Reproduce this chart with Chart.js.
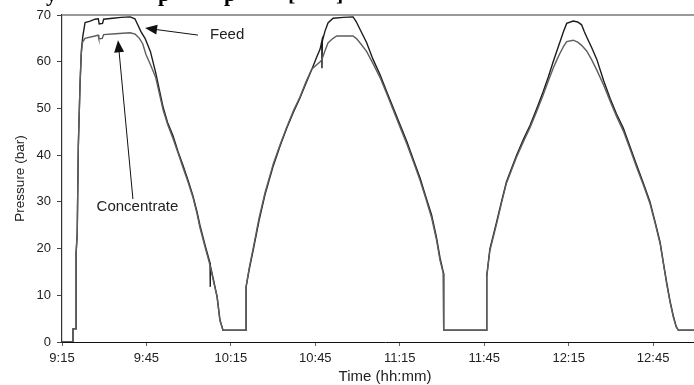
<!DOCTYPE html>
<html>
<head>
<meta charset="utf-8">
<script src="https://cdn.jsdelivr.net/npm/chart.js@4.4.1/dist/chart.umd.min.js"></script>
<style>
html,body{margin:0;padding:0;overflow:hidden;background:#fff;}
#wrap{position:relative;width:710px;height:385px;}
</style>
</head>
<body>
<div id="wrap"><canvas id="c" width="710" height="385"></canvas></div>
<script>
// ---- data (time in minutes after 9:15, pressure in bar) ----
const feedTime = [
  0, 3.9, 3.9, 5.0, 5.0, 5.4, 5.8, 6.4, 6.9, 7.4, 8.2, 10.0, 11.7, 12.9, 13.2, 14.4, 14.8, 18.0, 21.0, 24.2,
  25.9, 27.0, 28.0, 29.5, 31.4, 33.3, 35.9, 37.5, 39.4, 41.2, 43.0, 44.8, 46.5, 48.0, 49.0, 50.8, 52.6, 52.65, 52.7, 54.0,
  55.1, 56.1, 57.2, 65.4,
  65.4, 66.5, 68.0, 70.0, 72.1, 75.1, 77.5, 79.8, 82.2, 84.5, 86.6, 88.7, 90.5, 91.7, 92.3, 92.35, 92.5, 93.4, 94.5, 96.3,
  100.0, 103.4, 104.5, 105.9, 108.2, 110.5, 113.0, 115.4, 117.7, 120.1, 122.5, 124.9, 127.2, 129.3, 131.3, 133.0, 134.3, 135.5, 135.6, 150.9,
  150.9, 152.0, 154.4, 156.2, 157.9, 161.5, 164.0, 166.3, 168.6, 170.9, 172.8, 174.5, 175.8, 176.9, 178.2, 179.3, 181.6, 183.2, 184.6, 185.5,
  186.4, 188.2, 190.0, 192.4, 194.7, 197.0, 199.4, 201.8, 204.2, 206.6, 208.9, 210.8, 212.5, 213.7, 214.8, 216.0, 217.2, 218.2, 219.0, 229.5
];
const feedPressure = [
  0, 0, 2.8, 2.8, 19, 23, 42, 55, 62.5, 65.5, 68.4, 68.7, 69.1, 69.2, 68.1, 68.2, 69.1, 69.3, 69.5, 69.6,
  69.2, 67.8, 66.5, 65.0, 62.2, 57.6, 50.3, 47.0, 44.2, 40.8, 37.8, 34.6, 31.3, 27.8, 25.0, 20.8, 16.9, 11.8, 16.4, 12.8,
  9.6, 4.8, 2.5, 2.5,
  11.8, 15.5, 19.9, 26.0, 31.5, 37.8, 42.0, 45.7, 49.2, 52.2, 55.3, 58.3, 61.0, 62.7, 64.4, 58.6, 64.4, 66.5, 68.3, 69.3,
  69.5, 69.6, 68.6, 66.9, 64.1, 60.5, 57.2, 53.5, 50.1, 46.5, 42.9, 38.9, 35.1, 31.0, 27.2, 22.5, 18.0, 14.8, 2.5, 2.5,
  14.2, 19.9, 25.7, 30.2, 34.3, 40.0, 43.5, 46.4, 49.9, 53.5, 56.8, 60.0, 62.3, 64.2, 66.5, 68.2, 68.7, 68.5, 67.9, 66.5,
  65.3, 63.0, 60.5, 56.0, 52.2, 48.8, 45.8, 41.8, 37.8, 33.9, 30.0, 25.5, 21.3, 16.8, 12.8, 8.8, 5.5, 3.3, 2.5, 2.5
];
const concTime = [
  0, 3.9, 3.9, 5.0, 5.0, 5.4, 5.8, 6.4, 6.8, 7.3, 8.2, 11.7, 12.8, 13.1, 14.3, 14.8, 19.0, 24.2, 26.0, 27.5,
  28.7, 29.8, 31.4, 33.3, 35.9, 37.5, 39.4, 41.2, 43.0, 44.8, 46.5, 48.0, 49.0, 50.8, 52.6, 54.0, 55.1, 56.1, 57.2, 65.4,
  65.4, 66.5, 68.0, 70.0, 72.1, 75.1, 77.5, 79.8, 82.2, 84.5, 86.6, 88.7, 91.7, 92.3, 93.4, 94.5, 96.3, 97.6, 103.4, 104.7,
  105.9, 108.2, 110.5, 113.0, 115.4, 117.7, 120.1, 122.5, 124.9, 127.2, 129.3, 131.3, 133.0, 134.3, 135.5, 135.6, 150.9,
  150.9, 152.0, 154.4, 156.2, 157.9, 161.5, 164.0, 166.3, 168.6, 170.9, 172.8, 174.5, 175.8, 176.9, 178.2, 179.3, 181.6, 183.2, 184.6, 186.4,
  188.2, 190.0, 192.4, 194.7, 197.0, 199.4, 201.8, 204.2, 206.6, 208.9, 210.8, 212.5, 213.7, 214.8, 216.0, 217.2, 218.2, 219.0, 229.5
];
const concPressure = [
  0, 0, 2.8, 2.8, 19, 23, 42, 55, 61.5, 64.2, 65.0, 65.5, 65.7, 64.9, 65.0, 65.8, 66.0, 66.2, 65.9, 65.0,
  63.8, 61.6, 59.4, 56.6, 49.7, 46.6, 43.6, 40.5, 37.3, 34.2, 31.0, 27.4, 24.5, 20.4, 16.4, 12.5, 9.8, 4.6, 2.5, 2.5,
  11.8, 15.8, 20.3, 26.5, 31.9, 38.2, 42.3, 45.9, 49.5, 52.4, 55.6, 58.4, 60.0, 60.4, 62.3, 64.0, 65.0, 65.5, 65.5, 64.9,
  64.0, 62.2, 59.6, 56.6, 53.1, 49.6, 46.0, 42.4, 38.5, 34.6, 30.6, 26.6, 22.0, 17.5, 14.6, 2.5, 2.5,
  14.0, 19.5, 25.3, 29.9, 34.0, 39.6, 43.0, 45.9, 49.3, 52.8, 55.9, 58.6, 60.4, 61.8, 63.3, 64.3, 64.6, 64.2, 63.5, 62.3,
  60.4, 58.2, 55.0, 51.6, 48.3, 45.2, 41.3, 37.3, 33.5, 29.6, 25.2, 21.0, 16.6, 12.5, 8.6, 5.3, 3.2, 2.5, 2.5
];
const xTickMinutes = [0, 30, 60, 90, 120, 150, 180, 210];
const xTickLabels = ['9:15', '9:45', '10:15', '10:45', '11:15', '11:45', '12:15', '12:45'];
const seriesNames = ['Feed', 'Concentrate'];
const headingFragments = ['y', 'p', 'p', '[', ']'];

const toPoints = (ts, vs) => ts.map((t, i) => ({x: t, y: vs[i]}));
const FONT = '"Liberation Sans", Arial, Helvetica, sans-serif';

const decorations = {
  id: 'decorations',
  afterDraw(chart) {
    const {ctx, chartArea, scales: {x, y}} = chart;
    ctx.save();
    // top frame line
    ctx.strokeStyle = '#9a9a9a';
    ctx.lineWidth = 2;
    ctx.beginPath();
    ctx.moveTo(chartArea.left, chartArea.top);
    ctx.lineTo(chart.width, chartArea.top);
    ctx.stroke();

    // clipped heading of the page above the figure
    ctx.fillStyle = '#000';
    ctx.font = 'bold 22px "Liberation Serif", "Times New Roman", serif';
    ctx.textBaseline = 'alphabetic';
    const hx = [46, 158, 224, 288, 336];
    headingFragments.forEach((g, i) => ctx.fillText(g, hx[i], 0.5));

    // annotations
    const arrow = (t0, v0, t1, v1) => {
      const x0 = x.getPixelForValue(t0), y0 = y.getPixelForValue(v0);
      const x1 = x.getPixelForValue(t1), y1 = y.getPixelForValue(v1);
      const a = Math.atan2(y1 - y0, x1 - x0);
      const L = 12, W = 5;
      ctx.strokeStyle = '#111';
      ctx.fillStyle = '#111';
      ctx.lineWidth = 1;
      ctx.beginPath();
      ctx.moveTo(x0, y0);
      ctx.lineTo(x1 - Math.cos(a) * L * 0.8, y1 - Math.sin(a) * L * 0.8);
      ctx.stroke();
      ctx.beginPath();
      ctx.moveTo(x1, y1);
      ctx.lineTo(x1 - Math.cos(a) * L + Math.sin(a) * W, y1 - Math.sin(a) * L - Math.cos(a) * W);
      ctx.lineTo(x1 - Math.cos(a) * L - Math.sin(a) * W, y1 - Math.sin(a) * L + Math.cos(a) * W);
      ctx.closePath();
      ctx.fill();
    };
    arrow(48.3, 65.7, 29.5, 67.2);
    arrow(25.2, 30.6, 19.9, 64.6);
    ctx.fillStyle = '#222';
    ctx.font = '15px ' + FONT;
    ctx.textBaseline = 'middle';
    ctx.textAlign = 'left';
    ctx.fillText(seriesNames[0], x.getPixelForValue(52.6), y.getPixelForValue(65.7));
    ctx.textAlign = 'center';
    ctx.fillText(seriesNames[1], x.getPixelForValue(26.8), y.getPixelForValue(28.9));
    ctx.restore();
  }
};

new Chart(document.getElementById('c'), {
  type: 'line',
  data: {
    datasets: [
      {label: seriesNames[1], data: toPoints(concTime, concPressure), borderColor: '#5e5e5e', borderWidth: 1.4, pointRadius: 0, tension: 0},
      {label: seriesNames[0], data: toPoints(feedTime, feedPressure), borderColor: '#1c1c1c', borderWidth: 1.4, pointRadius: 0, tension: 0}
    ]
  },
  options: {
    responsive: false,
    animation: false,
    layout: {padding: {left: 0, right: 2, top: 15, bottom: 0}},
    plugins: {legend: {display: false}, tooltip: {enabled: false}},
    scales: {
      x: {
        type: 'linear',
        min: 0,
        max: 229.5,
        afterBuildTicks: s => { s.ticks = xTickMinutes.map(v => ({value: v})); },
        afterFit: s => { s.height = 43; },
        grid: {display: true, drawOnChartArea: false, drawTicks: true, tickLength: 4, color: '#666'},
        border: {display: true, color: '#111', width: 1},
        ticks: {
          color: '#222', padding: 5, maxRotation: 0, autoSkip: false,
          font: {family: FONT, size: 13},
          callback: v => { const i = xTickMinutes.indexOf(v); return i >= 0 ? xTickLabels[i] : ''; }
        },
        title: {display: true, text: 'Time (hh:mm)', color: '#222', font: {family: FONT, size: 15, lineHeight: 1}, padding: {top: 0, bottom: 0.5}}
      },
      y: {
        min: 0,
        max: 70,
        afterFit: s => { s.width = 62; },
        grid: {display: true, drawOnChartArea: false, drawTicks: true, tickLength: 5, color: '#444'},
        border: {display: true, color: '#333', width: 1.2},
        ticks: {stepSize: 10, color: '#222', padding: 6, font: {family: FONT, size: 13}},
        title: {display: true, text: 'Pressure (bar)', color: '#222', font: {family: FONT, size: 13.5, lineHeight: 1.2}, padding: {top: 12, bottom: 0}}
      }
    }
  },
  plugins: [decorations]
});
</script>
</body>
</html>
